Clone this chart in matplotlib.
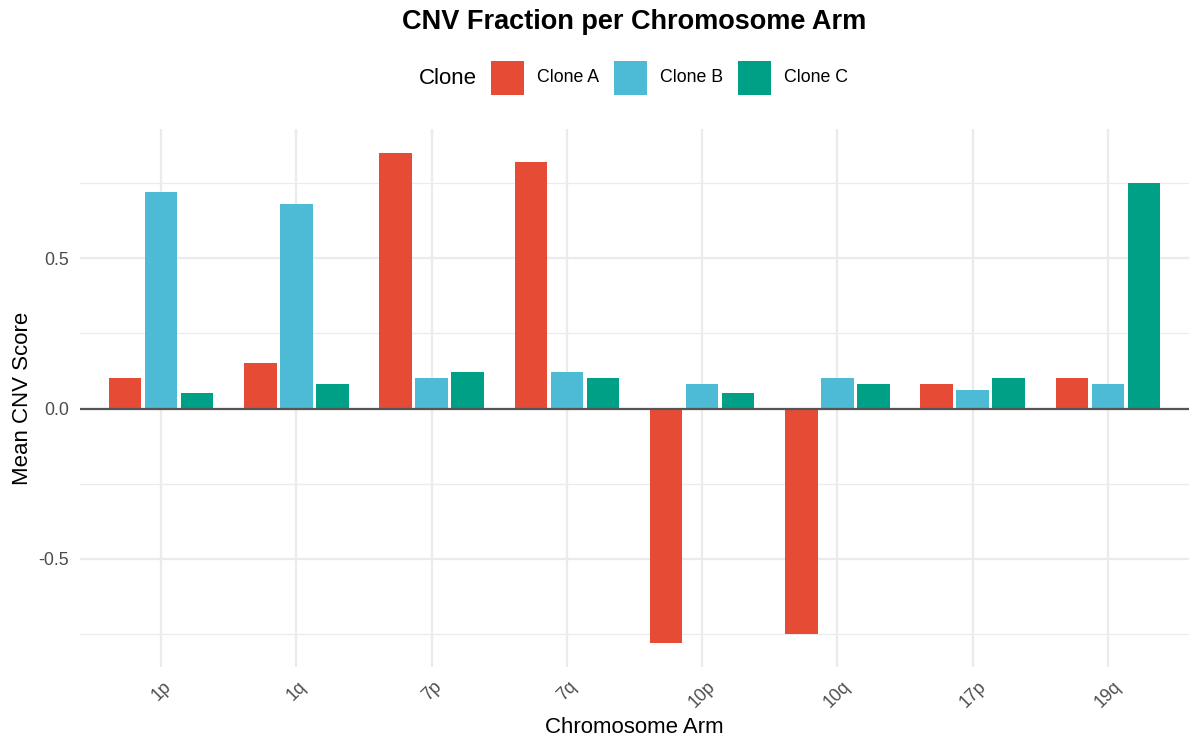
import matplotlib
matplotlib.use("Agg")
import matplotlib.pyplot as plt
from matplotlib.patches import Rectangle
import numpy as np

arms = ["1p", "1q", "7p", "7q", "10p", "10q", "17p", "19q"]
clones = ["Clone A", "Clone B", "Clone C"]
clone_a = [0.10, 0.15, 0.85, 0.82, -0.78, -0.75, 0.08, 0.10]
clone_b = [0.72, 0.68, 0.10, 0.12, 0.08, 0.10, 0.06, 0.08]
clone_c = [0.05, 0.08, 0.12, 0.10, 0.05, 0.08, 0.10, 0.75]
colors = ["#E64B35", "#4DBBD5", "#00A087"]
y_major = [-0.5, 0.0, 0.5]
y_minor = [-0.75, -0.25, 0.25, 0.75]

plt.rcParams['font.family'] = ['Liberation Sans', 'DejaVu Sans']

W, H = 1200, 750
fig = plt.figure(figsize=(12, 7.5), dpi=100)
pl, pr, pt, pb = 80, 1189, 129, 667
ax = fig.add_axes([pl / W, 1 - pb / H, (pr - pl) / W, (pb - pt) / H])

series = [clone_a, clone_b, clone_c]
x = np.arange(len(arms))
slot = 0.8 / 3
for j, (vals, col) in enumerate(zip(series, colors)):
    ax.bar(x + (j - 1) * slot, vals, width=slot * 0.9, color=col, zorder=3, linewidth=0)

allv = np.concatenate([np.array(s) for s in series])
lo, hi = allv.min(), allv.max()
rng = hi - lo
ax.set_ylim(lo - 0.05 * rng, hi + 0.05 * rng)
ax.set_xlim(-0.6, len(arms) - 0.4)

grid_c = "#EBEBEB"
for v in y_minor:
    ax.axhline(v, color=grid_c, lw=0.9, zorder=1)
for v in y_major:
    ax.axhline(v, color=grid_c, lw=1.6, zorder=1)
for xi in x:
    ax.axvline(xi, color=grid_c, lw=1.6, zorder=1)
ax.axhline(0, color="#555555", lw=1.6, zorder=4)

for s in ax.spines.values():
    s.set_visible(False)
ax.set_xticks(x)
ax.set_xticklabels(arms, rotation=45, ha="center", va="top")
ax.set_yticks(y_major)
ax.set_yticklabels(["-0.5", "0.0", "0.5"])
ax.tick_params(axis="both", length=0, labelsize=12.8, labelcolor="#4D4D4D")
ax.tick_params(axis="x", pad=8)
ax.tick_params(axis="y", pad=8)

ax.set_xlabel("Chromosome Arm", fontsize=16, color="black", labelpad=4)
ax.set_ylabel("Mean CNV Score", fontsize=16, color="black", labelpad=4)

cx = (pl + pr) / 2 / W
fig.text(cx, 1 - 22 / H, "CNV Fraction per Chromosome Arm", ha="center", va="center",
         fontsize=19.5, fontweight="bold")

# legend
ly = 78
fig.text(419 / W, 1 - ly / H, "Clone", ha="left", va="center", fontsize=16)
key_x = [491, 614, 738]
for kx, col, lab in zip(key_x, colors, clones):
    fig.add_artist(Rectangle((kx / W, 1 - (ly + 16.5) / H), 33 / W, 33 / H,
                             transform=fig.transFigure, color=col, lw=0))
    fig.text((kx + 46) / W, 1 - ly / H, lab, ha="left", va="center", fontsize=12.8)

fig.savefig("out.png", dpi=100, facecolor="white")
